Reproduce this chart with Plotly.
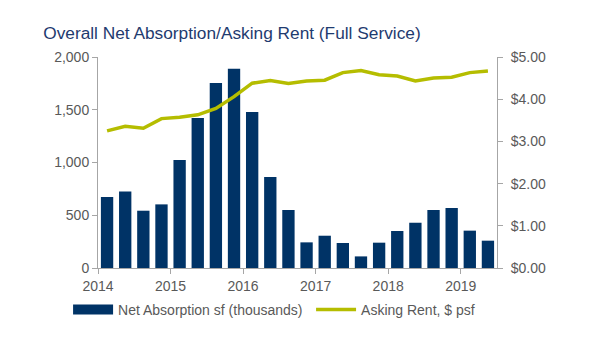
import plotly.graph_objects as go

quarters = ["2014Q1","2014Q2","2014Q3","2014Q4","2015Q1","2015Q2","2015Q3","2015Q4",
            "2016Q1","2016Q2","2016Q3","2016Q4","2017Q1","2017Q2","2017Q3","2017Q4",
            "2018Q1","2018Q2","2018Q3","2018Q4","2019Q1","2019Q2"]
net_absorption = [673, 726, 543, 603, 1024, 1422, 1754, 1889, 1479, 863, 550, 243,
                  306, 237, 110, 240, 351, 429, 550, 569, 354, 259]
asking_rent = [3.25, 3.36, 3.31, 3.54, 3.57, 3.63, 3.78, 4.06, 4.38, 4.44, 4.37, 4.43,
               4.45, 4.63, 4.68, 4.58, 4.55, 4.43, 4.50, 4.52, 4.63, 4.67]
year_labels = ["2014", "2015", "2016", "2017", "2018", "2019"]

xpos = [i + 0.5 for i in range(len(quarters))]
tickpos = [4 * i for i in range(len(year_labels))]

navy = "#003366"
lime = "#b5bd00"
gray = "#595959"
axis_gray = "#a6a6a6"

fig = go.Figure()
fig.add_trace(go.Bar(x=xpos, y=net_absorption, name="Net Absorption sf (thousands)",
                     marker=dict(color=navy, line=dict(width=0)), yaxis="y",
                     customdata=quarters, showlegend=False))
# legend entry with a wide rectangle swatch for the bars
fig.add_trace(go.Scatter(x=[None], y=[None], name="Net Absorption sf (thousands)",
                         mode="lines", line=dict(color=navy, width=10), legend="legend"))
fig.add_trace(go.Scatter(x=xpos, y=asking_rent, name="Asking Rent, $ psf", mode="lines",
                         line=dict(color=lime, width=3.5), yaxis="y2",
                         customdata=quarters, legend="legend2"))

legend_common = dict(orientation="h", xref="paper", yref="paper",
                     xanchor="left", yanchor="middle", bgcolor="rgba(0,0,0,0)",
                     font=dict(size=14, color=gray), itemwidth=40)

fig.update_layout(
    width=600, height=345,
    margin=dict(l=98, r=103, t=57, b=77, autoexpand=False),
    paper_bgcolor="white", plot_bgcolor="white",
    font=dict(family="Liberation Sans, Arial, sans-serif", size=14, color=gray),
    title=dict(text="Overall Net Absorption/Asking Rent (Full Service)",
               x=0.072, xanchor="left", y=0.905, yanchor="middle",
               font=dict(size=17.3, color="#1f3b6f")),
    bargap=0.32,
    showlegend=True,
    legend=dict(x=-0.075, y=-0.199, **legend_common),
    legend2=dict(x=0.534, y=-0.199, **legend_common),
    xaxis=dict(range=[0, len(quarters)], tickmode="array", tickvals=tickpos,
               ticktext=year_labels, ticks="outside", ticklen=5, tickcolor=axis_gray,
               showline=True, linecolor=axis_gray, linewidth=1, showgrid=False,
               zeroline=False),
    yaxis=dict(range=[0, 2000], dtick=500, tickformat=",", ticks="outside", ticklen=5,
               tickcolor=axis_gray, showline=True, linecolor=axis_gray, showgrid=False,
               zeroline=False),
    yaxis2=dict(range=[0, 5], dtick=1, tickprefix="$", tickformat=".2f", overlaying="y",
                side="right", ticks="outside", ticklen=5, tickcolor=axis_gray,
                showline=True, linecolor=axis_gray, showgrid=False, zeroline=False,
                ticklabelstandoff=5),
)

fig.write_html("out.html")
